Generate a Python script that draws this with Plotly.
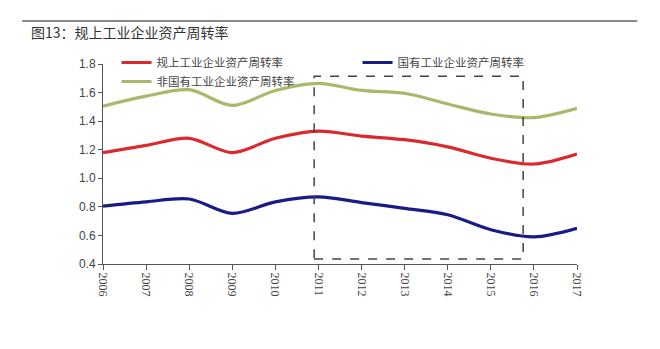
import plotly.graph_objects as go

# Years on the x axis
years = [2006, 2007, 2008, 2009, 2010, 2011, 2012, 2013, 2014, 2015, 2016, 2017]
year_labels = [str(y) for y in years]

# Asset turnover ratios
above_scale = [1.18, 1.23, 1.28, 1.18, 1.28, 1.33, 1.295, 1.27, 1.22, 1.14, 1.10, 1.17]
state_owned = [0.805, 0.835, 0.855, 0.755, 0.835, 0.87, 0.83, 0.79, 0.745, 0.64, 0.59, 0.65]
non_state = [1.505, 1.575, 1.62, 1.51, 1.615, 1.665, 1.615, 1.595, 1.52, 1.45, 1.425, 1.49]

series_names = ["规上工业企业资产周转率", "国有工业企业资产周转率", "非国有工业企业资产周转率"]
series_colors = ["#d92b2f", "#1c1a85", "#a9b96c"]
series_legends = ["legend", "legend2", "legend"]

# Highlighted period box (data coordinates)
box_x = [2010.9, 2015.75]
box_y = [0.435, 1.715]

y_ticks = [0.4, 0.6, 0.8, 1.0, 1.2, 1.4, 1.6, 1.8]

fig = go.Figure()
for name, vals, col, lg in zip(series_names, [above_scale, state_owned, non_state],
                               series_colors, series_legends):
    fig.add_trace(go.Scatter(
        x=years, y=vals, name=name, mode="lines", legend=lg,
        line=dict(color=col, width=3.2, shape="spline", smoothing=0.9),
    ))

fig.add_shape(type="rect", xref="x", yref="y",
              x0=box_x[0], x1=box_x[1], y0=box_y[0], y1=box_y[1],
              line=dict(color="#444444", width=1.5, dash="dash"), layer="above")

# Header rule and figure caption
fig.add_shape(type="line", xref="paper", yref="paper",
              x0=-0.171, x1=1.127, y0=1.215, y1=1.215,
              line=dict(color="#8a8a8a", width=2))
fig.add_annotation(text="图13：规上工业企业资产周转率", xref="paper", yref="paper",
                   x=-0.156, y=1.16, xanchor="left", yanchor="middle", showarrow=False,
                   font=dict(size=14, color="#333333", family="Noto Sans CJK SC"))

legend_style = dict(orientation="v", xanchor="left", yanchor="top",
                    bgcolor="rgba(0,0,0,0)", tracegroupgap=0, itemwidth=30,
                    font=dict(size=11.5, color="#444444"))

fig.update_layout(
    width=660, height=349,
    margin=dict(l=103, r=83, t=64, b=85),
    paper_bgcolor="white", plot_bgcolor="white",
    font=dict(family="Noto Sans CJK SC, DejaVu Serif", color="#444444", size=11),
    legend=dict(x=0.0285, y=1.08, **legend_style),
    legend2=dict(x=0.537, y=1.08, **legend_style),
    xaxis=dict(range=[2006, 2017], tickvals=years, ticktext=year_labels, tickangle=90,
               showgrid=False, zeroline=False, showline=True, linecolor="#555555",
               linewidth=1, ticks="outside", ticklen=5, tickcolor="#555555",
               tickfont=dict(family="Liberation Serif", size=12, color="#444444")),
    yaxis=dict(range=[0.4, 1.8], tickvals=y_ticks, ticktext=[f"{v:.1f}" for v in y_ticks],
               showgrid=False, zeroline=False, showline=True, linecolor="#555555",
               linewidth=1, ticks="outside", ticklen=4, tickcolor="#555555",
               tickfont=dict(family="Liberation Sans", size=12, color="#444444")),
)

fig.write_html("out.html")
